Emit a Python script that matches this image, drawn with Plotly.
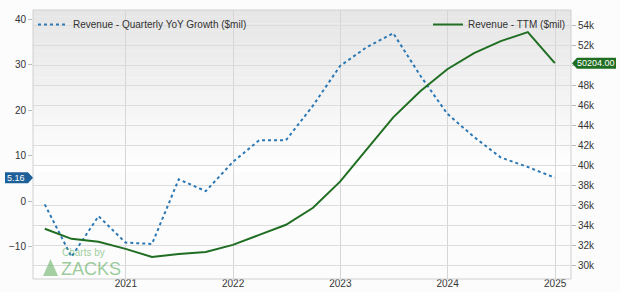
import plotly.graph_objects as go

dates = ["2020-03-31", "2020-06-30", "2020-09-30", "2020-12-31",
         "2021-03-31", "2021-06-30", "2021-09-30", "2021-12-31",
         "2022-03-31", "2022-06-30", "2022-09-30", "2022-12-31",
         "2023-03-31", "2023-06-30", "2023-09-30", "2023-12-31",
         "2024-03-31", "2024-06-30", "2024-09-30", "2024-12-31"]
yoy_growth = [-0.7, -12.2, -3.3, -9.1, -9.4, 4.8, 2.2, 8.6, 13.4, 13.4,
              21.0, 29.7, 33.8, 36.9, 27.6, 19.2, 14.1, 9.6, 7.5, 5.16]
ttm_revenue = [33700, 32700, 32400, 31700, 30900, 31200, 31400, 32100, 33100, 34100,
               35800, 38400, 41600, 44800, 47400, 49600, 51200, 52400, 53300, 50204]
year_ticks = ["2021-01-01", "2022-01-01", "2023-01-01", "2024-01-01", "2025-01-01"]
year_labels = ["2021", "2022", "2023", "2024", "2025"]
left_ticks = [-10, 0, 10, 20, 30, 40]
right_ticks = [30000, 32000, 34000, 36000, 38000, 40000, 42000, 44000, 46000, 48000, 50000, 52000, 54000]
right_labels = ["30k", "32k", "34k", "36k", "38k", "40k", "42k", "44k", "46k", "48k", "", "52k", "54k"]

BLUE = "#2b78b4"
GREEN = "#1f6e22"
FONT = "Liberation Sans, Arial, sans-serif"

fig = go.Figure()
fig.add_trace(go.Scatter(x=dates, y=yoy_growth, mode="lines", name="Revenue - Quarterly YoY Growth ($mil)",
                         line=dict(color=BLUE, width=2, dash="dot"), yaxis="y", legend="legend"))
fig.add_trace(go.Scatter(x=dates, y=ttm_revenue, mode="lines", name="Revenue - TTM ($mil)",
                         line=dict(color=GREEN, width=2), yaxis="y2", legend="legend2"))

# background gradient
shapes = []
n = 24
for i in range(n):
    y1 = 1 - i * 0.6 / n
    y0 = 1 - (i + 1) * 0.6 / n
    g = int(0xe6 + (0xff - 0xe6) * i / (n - 1))
    shapes.append(dict(type="rect", xref="paper", yref="paper", x0=0, x1=1, y0=y0, y1=y1,
                       fillcolor=f"rgb({g},{g},{g})", line=dict(width=0), layer="below"))
shapes.append(dict(type="rect", xref="paper", yref="paper", x0=0, x1=1, y0=0, y1=1,
                   line=dict(color="#d0d0d0", width=1), layer="above"))

# value tags
shapes.append(dict(type="path", xref="paper", xsizemode="pixel", xanchor=1,
                   yref="y2", ysizemode="pixel", yanchor=ttm_revenue[-1],
                   path="M 1 0 L 6 5.5 L 45 5.5 L 45 -5.5 L 6 -5.5 Z",
                   fillcolor=GREEN, line=dict(width=0), layer="above"))
shapes.append(dict(type="path", xref="paper", xsizemode="pixel", xanchor=0,
                   yref="y", ysizemode="pixel", yanchor=yoy_growth[-1],
                   path="M 0 0 L -5 5.5 L -28 5.5 L -28 -5.5 L -5 -5.5 Z",
                   fillcolor="#1d5f98", line=dict(width=0), layer="above"))

# Zacks logo triangle (watermark)
def px(x, y):
    return (x - 33) / 538, (279 - y) / 269
ax, ay = px(50.5, 259)
bx, by = px(43, 276)
cx, cy = px(58, 276)
shapes.append(dict(type="path", xref="paper", yref="paper",
                   path=f"M {ax} {ay} L {bx} {by} L {cx} {cy} Z",
                   fillcolor="rgba(90,170,90,0.55)", line=dict(width=0), layer="above"))

annotations = [
    dict(xref="paper", x=1, xanchor="center", xshift=25, yref="y2", y=ttm_revenue[-1],
         text=f"{ttm_revenue[-1]:.2f}", showarrow=False, borderpad=0,
         font=dict(color="white", size=9, family=FONT)),
    dict(xref="paper", x=0, xanchor="center", xshift=-17, yref="y", y=yoy_growth[-1],
         text=f"{yoy_growth[-1]:.2f}", showarrow=False, borderpad=0,
         font=dict(color="white", size=9, family=FONT)),
    dict(xref="paper", yref="paper", x=px(61, 0)[0], y=px(0, 252.5)[1], xanchor="left", yanchor="middle",
         text="Charts by", showarrow=False, borderpad=0,
         font=dict(color="rgba(90,170,90,0.6)", size=10, family=FONT)),
    dict(xref="paper", yref="paper", x=px(60, 0)[0], y=px(0, 269)[1], xanchor="left", yanchor="middle",
         text="ZACKS", showarrow=False, borderpad=0,
         font=dict(color="rgba(90,170,90,0.6)", size=18, family=FONT)),
]

fig.update_layout(
    width=620, height=292,
    margin=dict(l=33, r=49, t=10, b=13, autoexpand=False),
    paper_bgcolor="#fcfcfc", plot_bgcolor="rgba(0,0,0,0)",
    font=dict(family=FONT, size=10, color="#333"),
    shapes=shapes, annotations=annotations,
    xaxis=dict(type="date", range=["2020-02-20", "2025-02-24"],
               tickvals=year_ticks, ticktext=year_labels, automargin=False,
               showgrid=True, gridcolor="#d6d6d6", gridwidth=1,
               ticks="", ticklabelstandoff=-3,
               tickfont=dict(size=10, color="#333"), zeroline=False, showline=False),
    yaxis=dict(range=[-17.1, 42.0], tickvals=left_ticks, automargin=False,
               showgrid=False, zeroline=False, ticks="outside", ticklen=4, tickcolor="#bbb",
               tickfont=dict(size=10, color="#333")),
    yaxis2=dict(range=[28700, 55500], overlaying="y", side="right",
                tickvals=right_ticks, ticktext=right_labels, automargin=False,
                showgrid=True, gridcolor="#dcdcdc", gridwidth=1,
                zeroline=False, ticks="outside", ticklen=4, tickcolor="#bbb",
                tickfont=dict(size=10, color="#333")),
    legend=dict(x=0, y=1, xanchor="left", yanchor="top", bgcolor="rgba(0,0,0,0)",
                font=dict(size=10, color="#333"), itemwidth=30),
    legend2=dict(x=1, y=1, xanchor="right", yanchor="top", bgcolor="rgba(0,0,0,0)",
                 font=dict(size=10, color="#333"), itemwidth=30),
    showlegend=True,
)

fig.write_html("out.html")
